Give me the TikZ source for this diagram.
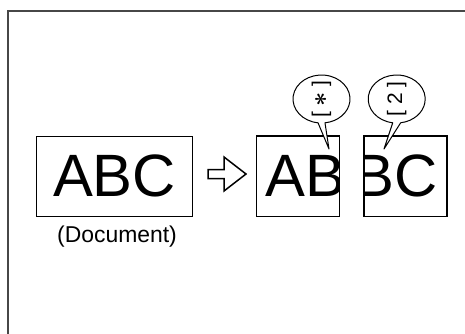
\documentclass[tikz,border=0pt]{standalone}
\usepackage{fontspec}
\setmainfont{Liberation Sans}
\usetikzlibrary{calc}
\begin{document}
\begin{tikzpicture}[x=1bp,y=-1bp,
  textbox/.style={draw, line width=1bp, minimum width=#1, minimum height=80bp, inner sep=0pt},
  bigtext/.style={font=\fontsize{60}{60}\selectfont, inner sep=0pt},
  bubbletext/.style={font=\fontsize{21}{21}\selectfont, rotate=90, inner sep=0pt},
  bubble/.style={draw, fill=white, line width=1bp, line join=round}]
\useasboundingbox (0,0) rectangle (465,333);
\draw[line width=2bp, black!72] (7.5,334) -- (7.5,10.5) -- (466,10.5);

% original document
\node[textbox=155bp] (doc) at (114.5,176) {};
\node[bigtext] (doctext) at (doc.center) {ABC};
\node[font=\fontsize{23}{23}\selectfont] (doclabel) at (117,237) {(Document)};

% outlined arrow
\draw[line width=1.5bp, line join=miter] (208,169.5) -- (224,169.5) -- (224,157)
  -- (246,174) -- (224,191) -- (224,178.5) -- (208,178.5) -- cycle;

% split pages
\node[textbox=82.3bp] (pageab) at (297.85,176) {};
\node[textbox=82.7bp] (pagebc) at (405.35,176) {};
\begin{scope}
\clip (pageab.south west) rectangle (pageab.north east);
\node[bigtext, anchor=west] (abtext) at (265,176) {AB};
\end{scope}
\begin{scope}
\clip (pagebc.south west) rectangle (pagebc.north east);
\node[bigtext, anchor=east] (bctext) at (438,176) {BC};
\end{scope}
\draw[line width=1bp] (pageab.south west) rectangle (pageab.north east);
\draw[line width=1bp] (pagebc.south west) rectangle (pagebc.north east);

% balloons
\coordinate (ballone) at (321.5,99);
\coordinate (tipone) at (329,149);
\draw[bubble] ($(ballone)+(83:28.5 and 24)$) -- (tipone) -- ($(ballone)+(97:28.5 and 24)$)
  arc[start angle=97, end angle=443, x radius=28.5, y radius=24] -- cycle;
\node[bubbletext] (markone) at (ballone) {[ {\fontsize{36}{36}\selectfont\boldmath$\ast$} ]};

\coordinate (balltwo) at (396.7,99);
\coordinate (tiptwo) at (384,149);
\draw[bubble] ($(balltwo)+(82:28.5 and 24)$) -- (tiptwo) -- ($(balltwo)+(98:28.5 and 24)$)
  arc[start angle=98, end angle=442, x radius=28.5, y radius=24] -- cycle;
\node[bubbletext] (marktwo) at (balltwo) {[ 2 ]};
\end{tikzpicture}
\end{document}
